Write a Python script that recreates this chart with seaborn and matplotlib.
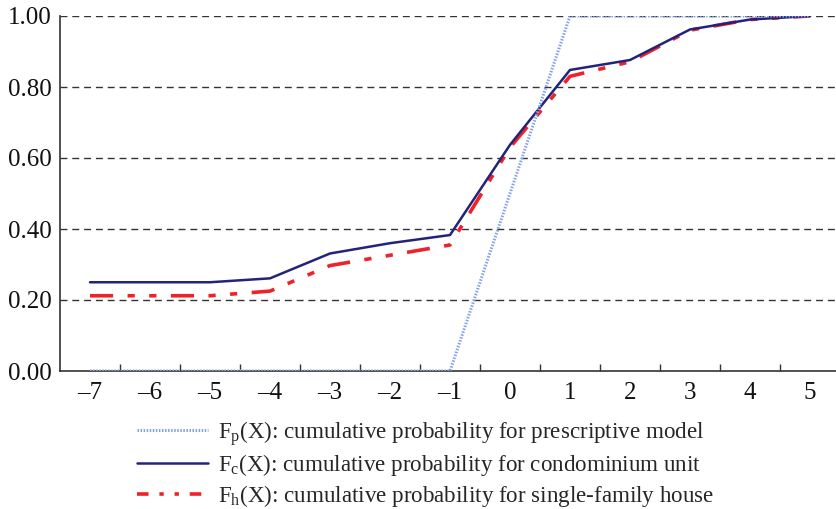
import matplotlib
matplotlib.use("Agg")
import matplotlib.pyplot as plt
import seaborn as sns
import pandas as pd

x_vals = [-7, -6, -5, -4, -3, -2, -1, 0, 1, 2, 3, 4, 5]
x_labels = ["–7", "–6", "–5", "–4", "–3", "–2", "–1", "0", "1", "2", "3", "4", "5"]
prescriptive = [0, 0, 0, 0, 0, 0, 0, 0.5, 1.0, 1.0, 1.0, 1.0, 1.0]
condominium = [0.25, 0.25, 0.25, 0.261, 0.331, 0.36, 0.383, 0.637, 0.848, 0.876, 0.962, 0.99, 1.0]
house = [0.212, 0.212, 0.212, 0.225, 0.297, 0.326, 0.355, 0.63, 0.83, 0.871, 0.96, 0.99, 1.0]
y_ticks = [0.0, 0.2, 0.4, 0.6, 0.8, 1.0]
y_labels = ["0.00", "0.20", "0.40", "0.60", "0.80", "1.00"]
legend_labels = [
    r"F$_\mathrm{p}$(X): cumulative probability for prescriptive model",
    r"F$_\mathrm{c}$(X): cumulative probability for condominium unit",
    r"F$_\mathrm{h}$(X): cumulative probability for single-family house",
]

sns.set_style("white")
plt.rcParams["font.family"] = ["Liberation Serif", "DejaVu Serif"]
plt.rcParams["mathtext.fontset"] = "custom"
plt.rcParams["mathtext.rm"] = "Liberation Serif"
plt.rcParams["mathtext.it"] = "Liberation Serif:italic"

df = pd.DataFrame({"x": x_vals, "p": prescriptive, "c": condominium, "h": house})

fig = plt.figure(figsize=(8.36, 5.09), dpi=100)
ax = fig.add_axes([60 / 836, 138 / 509, 776 / 836, 355 / 509])

for yv in y_ticks[1:]:
    ax.axhline(yv, color="#333333", lw=1.0, ls=(0, (5, 3.5)), zorder=1)

sns.lineplot(data=df, x="x", y="p", ax=ax, color="#86a2e6", lw=2.2,
             ls=(0, (0.5, 0.5)), label=legend_labels[0], zorder=5)
sns.lineplot(data=df, x="x", y="c", ax=ax, color="#23237a", lw=1.8,
             label=legend_labels[1], zorder=4)
sns.lineplot(data=df, x="x", y="h", ax=ax, color="#ee2229", lw=2.6,
             ls=(0, (6.4, 4, 2, 4, 2, 4)), label=legend_labels[2], zorder=3)

ax.set_xlim(-7.5, -7.5 + 776 / 60)
ax.set_ylim(0, 1.0)
ax.set_xticks(x_vals)
ax.set_xticklabels(x_labels)
ax.set_xticks([v + 0.5 for v in x_vals[:-1]], minor=True)
ax.set_yticks(y_ticks)
ax.set_yticklabels(y_labels)
ax.tick_params(axis="x", which="major", length=0, pad=8, labelsize=18, colors="#111111")
ax.tick_params(axis="x", which="minor", length=5, width=1.0, direction="in", color="#333333", bottom=True)
ax.tick_params(axis="y", length=0, pad=6, labelsize=18, colors="#111111")
ax.set_xlabel("")
ax.set_ylabel("")
for s in ["top", "right"]:
    ax.spines[s].set_visible(False)
for s in ["left", "bottom"]:
    ax.spines[s].set_color("#333333")
    ax.spines[s].set_linewidth(1.2)

handles, labels = ax.get_legend_handles_labels()
ax.get_legend().remove()
leg = fig.legend(handles, labels, loc="upper left", bbox_to_anchor=(137 / 836, 1 - 419 / 509),
                 frameon=False, fontsize=16.6, handlelength=3.1, handletextpad=0.4,
                 labelspacing=0.2, borderpad=0, borderaxespad=0)
leg.get_lines()[2].set_linestyle((0, (3.2, 3, 1.2, 3, 1.2, 3)))

fig.savefig("out.png", dpi=100)
